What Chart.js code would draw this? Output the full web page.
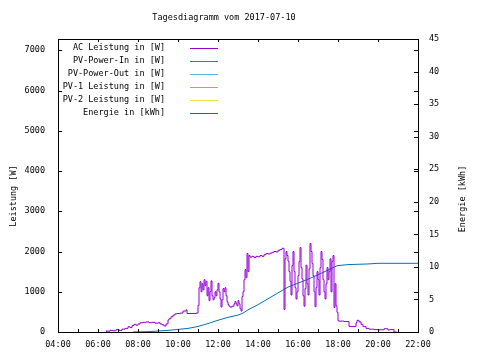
<!DOCTYPE html>
<html>
<head>
<meta charset="utf-8">
<script src="https://cdn.jsdelivr.net/npm/chart.js@4/dist/chart.umd.min.js"></script>
<style>
html,body{margin:0;padding:0;background:#fff;}
canvas{display:block;}
</style>
</head>
<body>
<canvas id="c" width="480" height="360"></canvas>
<script>
// ---- data ----
const chartTitle = "Tagesdiagramm vom 2017-07-10";
const leftAxisTitle = "Leistung [W]";
const rightAxisTitle = "Energie [kWh]";
const seriesLabels = ["AC Leistung in [W]", "PV-Power-In in [W]", "PV-Power-Out in [W]", "PV-1 Leistung in [W]", "PV-2 Leistung in [W]", "Energie in [kWh]"];
const seriesColors = ["#9400d3", "#009e73", "#56b4e9", "#e69f00", "#f0e442", "#0072b2"];

// time of day in hours
const acTimes = [6.42,6.45,6.6,6.75,6.9,7.05,7.2,7.35,7.5,7.6,7.7,7.8,7.9,8.0,8.1,8.25,8.4,8.55,8.7,8.85,9.0,9.1,9.2,9.3,9.4,9.5,9.55,9.65,9.75,9.85,9.95,10.1,10.25,10.4,10.45,10.5,10.7,10.9,11.0,11.05,11.1,11.15,11.2,11.25,11.3,11.35,11.4,11.45,11.5,11.55,11.6,11.65,11.7,11.75,11.8,11.85,11.9,11.95,12.0,12.05,12.1,12.15,12.2,12.25,12.3,12.35,12.4,12.45,12.5,12.55,12.6,12.7,12.8,12.85,12.9,12.95,13.0,13.05,13.1,13.15,13.2,13.25,13.3,13.35,13.4,13.45,13.5,13.55,13.6,13.7,13.8,13.9,14.0,14.1,14.2,14.3,14.4,14.5,14.6,14.7,14.8,14.9,15.0,15.1,15.2,15.3,15.35,15.4,15.45,15.5,15.55,15.6,15.65,15.7,15.75,15.8,15.85,15.9,15.95,16.0,16.05,16.1,16.15,16.2,16.25,16.3,16.35,16.4,16.45,16.5,16.55,16.6,16.65,16.7,16.75,16.8,16.85,16.9,16.95,17.0,17.05,17.1,17.15,17.2,17.25,17.3,17.35,17.4,17.45,17.5,17.55,17.6,17.65,17.7,17.75,17.8,17.85,17.9,17.95,18.0,18.05,18.3,18.55,18.6,18.9,18.95,19.05,19.15,19.25,19.4,19.55,19.8,20.0,20.3,20.5,20.6,20.8,20.93];
const acPower = [0,30,20,40,30,60,40,70,90,130,110,160,190,170,200,230,240,250,230,240,220,230,200,180,150,200,300,330,380,420,450,460,470,520,550,460,460,460,470,660,1100,1250,1000,1200,1050,1300,1150,1260,900,1100,780,1000,1270,900,800,850,1000,900,1050,1210,1000,820,620,800,1080,1000,1100,900,750,680,640,620,640,700,760,700,650,780,700,580,520,880,1000,1300,1550,1350,1950,1500,1900,1860,1880,1850,1880,1870,1900,1880,1920,1950,1940,1960,1980,2000,1990,2030,2050,2080,560,1820,2000,1900,1760,1500,1260,920,1650,2000,1500,1100,820,1000,1400,1750,2100,1600,1320,900,640,1080,1660,1200,920,1570,2200,2000,1700,1400,1000,630,1100,1500,1300,920,1600,2000,1800,1300,1000,820,1200,1600,1300,1500,1820,1000,1750,1900,610,1200,650,490,280,270,260,140,135,230,290,250,190,135,90,70,60,55,80,50,60,0];

const energyTimes = [7.75,8.5,9.0,9.5,10.0,10.5,11.0,11.5,12.0,12.5,13.0,13.25,13.5,13.75,14.0,14.5,15.0,15.5,16.0,16.5,17.0,17.5,17.9,18.0,18.5,19.0,19.5,20.0,21.0,22.0];
const energyKwh = [0,0.05,0.15,0.25,0.4,0.55,0.85,1.3,1.8,2.25,2.6,2.9,3.4,3.8,4.2,5.1,6.0,6.9,7.5,8.1,8.8,9.5,10.1,10.2,10.35,10.4,10.45,10.55,10.55,10.55];

const pvInValues = [];
const pvOutValues = [];
const pv1Values = [];
const pv2Values = [];

const xTickLabels = ["04:00","06:00","08:00","10:00","12:00","14:00","16:00","18:00","20:00","22:00"];
const leftTickValues = [0,1000,2000,3000,4000,5000,6000,7000];
const rightTickValues = [0,5,10,15,20,25,30,35,40,45];

// ---- build ----
const FONT = "'DejaVu Sans Mono', 'Liberation Mono', monospace";
const FS = 8.5;
Chart.defaults.font.family = FONT;
Chart.defaults.font.size = FS;
Chart.defaults.color = "#000";

const pts = (xs, ys) => xs.map((x, i) => ({x: x, y: ys[i]}));

const datasets = [
  {label: seriesLabels[0], data: pts(acTimes, acPower), yAxisID: 'y', stepped: 'after'},
  {label: seriesLabels[1], data: pvInValues, yAxisID: 'y'},
  {label: seriesLabels[2], data: pvOutValues, yAxisID: 'y'},
  {label: seriesLabels[3], data: pv1Values, yAxisID: 'y'},
  {label: seriesLabels[4], data: pv2Values, yAxisID: 'y'},
  {label: seriesLabels[5], data: pts(energyTimes, energyKwh), yAxisID: 'y2'}
].map((d, i) => Object.assign(d, {borderColor: seriesColors[i], backgroundColor: seriesColors[i], borderWidth: 1, pointRadius: 0, fill: false, tension: 0}));

const framePlugin = {
  id: 'frame',
  afterDatasetsDraw(chart) {
    const ctx = chart.ctx, a = chart.chartArea;
    const xs = chart.scales.x, ys = chart.scales.y, y2 = chart.scales.y2;
    ctx.save();
    ctx.strokeStyle = '#000';
    ctx.lineWidth = 1;
    ctx.strokeRect(a.left + 0.5, a.top + 0.5, a.right - a.left, a.bottom - a.top);
    ctx.beginPath();
    ys.ticks.forEach(t => {
      const p = Math.round(ys.getPixelForValue(t.value)) + 0.5;
      ctx.moveTo(a.left, p); ctx.lineTo(a.left + 4, p);
      ctx.moveTo(a.right, p); ctx.lineTo(a.right - 4, p);
    });
    y2.ticks.forEach(t => {
      const p = Math.round(y2.getPixelForValue(t.value)) + 0.5;
      ctx.moveTo(a.right, p); ctx.lineTo(a.right - 4, p);
    });
    for (let h = xs.min; h <= xs.max; h += 1) {
      const p = Math.round(xs.getPixelForValue(h)) + 0.5;
      ctx.moveTo(p, a.bottom); ctx.lineTo(p, a.bottom - 3);
      if (h % 2 === 0) { ctx.moveTo(p, a.top); ctx.lineTo(p, a.top + 3); }
    }
    ctx.stroke();

    ctx.fillStyle = '#000';
    ctx.font = FS + 'px ' + FONT;
    ctx.textBaseline = 'middle';
    ctx.textAlign = 'center';
    ctx.fillText(chartTitle, 224, 18);
    ctx.save();
    ctx.translate(14, 196);
    ctx.rotate(-Math.PI / 2);
    ctx.fillText(leftAxisTitle, 0, 0);
    ctx.restore();
    ctx.save();
    ctx.translate(463, 199);
    ctx.rotate(-Math.PI / 2);
    ctx.fillText(rightAxisTitle, 0, 0);
    ctx.restore();

    chart.data.datasets.forEach((d, i) => {
      const yy = 48 + i * 12.9;
      ctx.textAlign = 'right';
      ctx.fillStyle = '#000';
      ctx.fillText(d.label, 165, yy);
      ctx.strokeStyle = seriesColors[i];
      ctx.beginPath();
      ctx.moveTo(190, Math.round(yy) + 0.5);
      ctx.lineTo(218, Math.round(yy) + 0.5);
      ctx.stroke();
    });
    ctx.restore();
  }
};

new Chart(document.getElementById('c'), {
  type: 'line',
  data: {datasets: datasets},
  options: {
    responsive: false,
    animation: false,
    devicePixelRatio: 1,
    layout: {padding: {top: 39, left: 0, right: 0, bottom: 0}},
    plugins: {legend: {display: false}, title: {display: false}, tooltip: {enabled: false}},
    scales: {
      x: {
        type: 'linear', position: 'bottom', min: 4, max: 22,
        grid: {display: false, drawTicks: false},
        border: {display: false},
        ticks: {stepSize: 2, padding: 8, maxRotation: 0, autoSkip: false,
          callback: (v) => xTickLabels[(v - 4) / 2]},
        afterFit: (s) => { s.height = 28; }
      },
      y: {
        type: 'linear', position: 'left', min: 0, max: 7280,
        grid: {display: false, drawTicks: false},
        border: {display: false},
        ticks: {padding: 13, autoSkip: false, callback: (v) => String(v)},
        afterBuildTicks: (s) => { s.ticks = leftTickValues.map(v => ({value: v})); },
        afterFit: (s) => { s.width = 58; }
      },
      y2: {
        type: 'linear', position: 'right', min: 0, max: 45,
        grid: {display: false, drawTicks: false},
        border: {display: false},
        ticks: {padding: 11, autoSkip: false, callback: (v) => String(v)},
        afterBuildTicks: (s) => { s.ticks = rightTickValues.map(v => ({value: v})); },
        afterFit: (s) => { s.width = 62; }
      }
    }
  },
  plugins: [framePlugin]
});
</script>
</body>
</html>
